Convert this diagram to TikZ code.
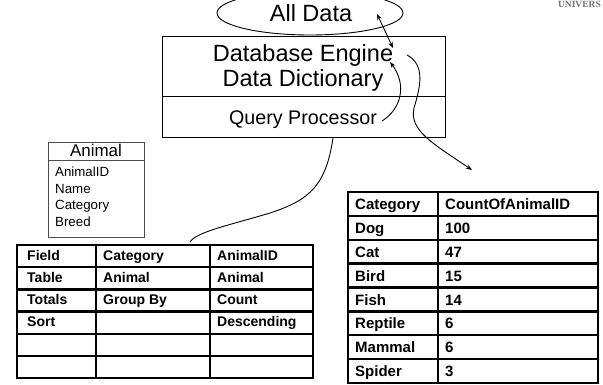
\documentclass[tikz,border=0pt]{standalone}
\usepackage{fontspec}
\setmainfont{Liberation Sans}
\newfontfamily\logofont{Liberation Serif}
\usetikzlibrary{arrows.meta,shapes.geometric}
\tikzset{
  lbl/.style={inner sep=0pt, anchor=base west},
  qtxt/.style={lbl, font=\fontsize{14}{16}\selectfont\bfseries},
  rtxt/.style={lbl, font=\fontsize{15}{17}\selectfont\bfseries},
  ftxt/.style={lbl, font=\fontsize{13.3}{15}\selectfont},
  gridline/.style={line width=2.4pt},
  conn/.style={line width=0.9pt},
  tip/.style={-{Stealth[length=6pt,width=4.5pt]}},
}
\begin{document}
\begin{tikzpicture}[x=1pt,y=-1pt]
\useasboundingbox (0,0) rectangle (603,385);

% logo fragment
\node[inner sep=0pt, anchor=base east, text=black!55, font=\logofont\bfseries\fontsize{9.5}{11}\selectfont] (logo) at (601,7.5) {UNIVERS};

% All Data ellipse
\node[draw, ellipse, line width=0.9pt, minimum width=186pt, minimum height=44pt, inner sep=0pt] (alldata) at (310,13) {};
\node[inner sep=0pt, anchor=base, font=\fontsize{23.5}{26}\selectfont] (alldatatxt) at (311,22) {All Data};

% Database box
\node[draw, line width=1pt, minimum width=283pt, minimum height=101pt, inner sep=0pt] (dbbox) at (303.5,87.5) {};
\draw[line width=1pt] (162,97) coordinate (divl) -- (445,97) coordinate (divr);
\node[inner sep=0pt, anchor=base, font=\fontsize{23.5}{26}\selectfont] (engine) at (303,62) {Database Engine};
\node[inner sep=0pt, anchor=base, font=\fontsize{23.5}{26}\selectfont] (dict) at (303,87) {Data Dictionary};
\node[inner sep=0pt, anchor=base, font=\fontsize{19.7}{22}\selectfont] (qp) at (303,125) {Query Processor};

% Animal table
\node[draw, draw=black!70, line width=0.8pt, minimum width=96pt, minimum height=95pt, inner sep=0pt] (animalbox) at (96,189.5) {};
\draw[black!70, line width=0.8pt] (48,160) coordinate (adl) -- (144,160) coordinate (adr);
\node[inner sep=0pt, anchor=base, font=\fontsize{17}{19}\selectfont] (animalhdr) at (96,157) {Animal};
\node[ftxt] (f1) at (55,177) {AnimalID};
\node[ftxt] (f2) at (55,193.5) {Name};
\node[ftxt] (f3) at (55,209.5) {Category};
\node[ftxt] (f4) at (55,226) {Breed};

% Query grid
\draw[gridline] (17,245) rectangle (313,378);
\foreach \yy in {267.2,289.3,311.5,333.7,355.8} \draw[gridline] (17,\yy) -- (313,\yy);
\draw[gridline] (96,245) -- (96,378);
\draw[gridline] (210,245) -- (210,378);
\node[qtxt] (q11) at (27,260) {Field};
\node[qtxt] (q12) at (103,260) {Category};
\node[qtxt] (q13) at (217,260) {AnimalID};
\node[qtxt] (q21) at (27,282.2) {Table};
\node[qtxt] (q22) at (103,282.2) {Animal};
\node[qtxt] (q23) at (217,282.2) {Animal};
\node[qtxt] (q31) at (27,304.3) {Totals};
\node[qtxt] (q32) at (103,304.3) {Group By};
\node[qtxt] (q33) at (217,304.3) {Count};
\node[qtxt] (q41) at (27,326.5) {Sort};
\node[qtxt] (q43) at (217,326.5) {Descending};

% Result grid
\draw[gridline] (348,192) rectangle (598,383);
\foreach \k in {1,...,7} \draw[gridline] (348,192+\k*23.875) -- (598,192+\k*23.875);
\draw[gridline] (438,192) -- (438,383);
\foreach \a/\b [count=\i from 0] in {Category/CountOfAnimalID,Dog/100,Cat/47,Bird/15,Fish/14,Reptile/6,Mammal/6,Spider/3}{
  \node[rtxt] (ra\i) at (355,209.5+\i*23.875) {\a};
  \node[rtxt] (rb\i) at (445,209.5+\i*23.875) {\b};
}

% connectors
\coordinate (a1s) at (377,14);
\coordinate (a1e) at (393,48);
\draw[conn, {Stealth[length=6pt,width=4.5pt]}-{Stealth[length=6pt,width=4.5pt]}] (a1s) -- (a1e);

\coordinate (a2s) at (382,121);
\coordinate (a2e) at (390,62);
\draw[conn, tip] (a2s) .. controls (400,110) and (408,86) .. (a2e);

\coordinate (a3s) at (407,55);
\coordinate (a3m) at (414,108);
\coordinate (a3e) at (472,170);
\draw[conn, tip] (a3s) .. controls (426,65) and (420,88) .. (a3m) .. controls (409,130) and (432,143) .. (a3e);

\coordinate (a4s) at (333,138);
\coordinate (a4m) at (270,213);
\coordinate (a4e) at (190,242);
\draw[conn] (a4s) .. controls (326,185) and (310,200) .. (a4m) .. controls (230,225) and (196,232) .. (a4e);
\end{tikzpicture}
\end{document}
